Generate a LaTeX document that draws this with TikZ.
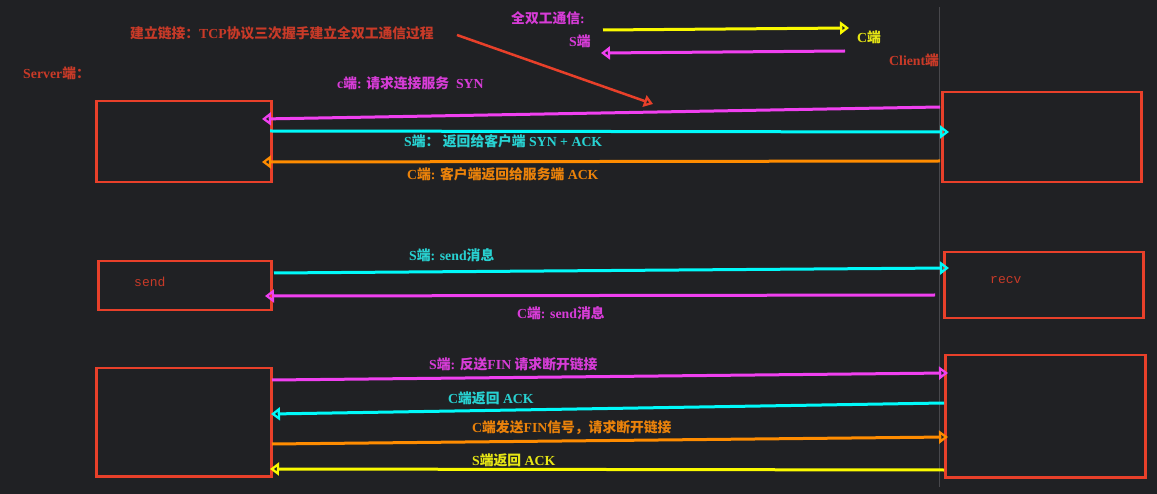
\documentclass[tikz,border=0pt]{standalone}
\usepackage{fontspec}
\setmainfont{Liberation Serif}
\newfontfamily\cjk{Noto Sans CJK SC}
\newfontfamily\monofam{Liberation Mono}
\usetikzlibrary{arrows.meta}
\newcommand\zh[1]{{\cjk #1}}
\definecolor{bg}{RGB}{32,33,36}
\definecolor{boxred}{RGB}{232,64,42}
\definecolor{txtred}{RGB}{200,58,40}
\definecolor{cmag}{RGB}{240,64,240}
\definecolor{tmag}{RGB}{215,60,215}
\definecolor{ccyan}{RGB}{0,250,250}
\definecolor{tcyan}{RGB}{40,210,210}
\definecolor{corange}{RGB}{255,140,0}
\definecolor{torange}{RGB}{235,130,10}
\definecolor{cyellow}{RGB}{250,250,0}
\definecolor{tyellow}{RGB}{230,230,20}
\definecolor{vline}{RGB}{72,72,76}
\begin{document}
\begin{tikzpicture}[x=1pt,y=-1pt,
  box/.style={draw=boxred, line width=2.5pt, inner sep=0pt, anchor=north west},
  lbl/.style={anchor=west, inner sep=0pt, font=\fontsize{13.8}{16}\selectfont\bfseries},
  conn/.style={line width=3pt, -{Triangle[open,length=9pt,width=13pt,line width=2.5pt]}}]
\fill[bg] (0,0) rectangle (1157,494);
\useasboundingbox (0,0) rectangle (1157,494);

% vertical guide line
\coordinate (vt) at (939.5,7);
\coordinate (vb) at (939.5,487);
\draw[vline, line width=0.8pt] (vt) -- (vb);

% boxes
\node[box, minimum width=175pt, minimum height=81pt] (L1) at (95,100) {};
\node[box, minimum width=173pt, minimum height=49pt] (L2) at (97,260) {};
\node[box, minimum width=175pt, minimum height=108pt] (L3) at (95,367) {};
\node[box, minimum width=199pt, minimum height=90pt] (R1) at (941,91) {};
\node[box, minimum width=199pt, minimum height=66pt] (R2) at (943,251) {};
\node[box, minimum width=200pt, minimum height=122pt] (R3) at (944,354) {};

\node[lbl, text=txtred, font=\monofam\fontsize{13}{15}\selectfont] (send) at (134,282) {send};
\node[lbl, text=txtred, font=\monofam\fontsize{13}{15}\selectfont] (recv) at (990,280) {recv};

% top texts
\node[lbl, text=txtred] (title) at (130,33) {\zh{建立链接：}TCP\zh{协议三次握手建立全双工通信过程}};
\node[lbl, text=txtred] (server) at (23,73) {Server\zh{端：}};
\node[lbl, text=tmag] (duplex) at (511,18) {\zh{全双工通信}:};
\node[lbl, text=tmag] (sside) at (569,41) {S\zh{端}};
\node[lbl, text=tyellow] (cside) at (857,37) {C\zh{端}};
\node[lbl, text=txtred] (client) at (889,60) {Client\zh{端}};

% legend arrows
\coordinate (ya) at (603,30); \coordinate (yb) at (849,28);
\draw[conn, cyellow] (ya) -- (yb);
\coordinate (ma) at (845,51); \coordinate (mb) at (601,53);
\draw[conn, cmag] (ma) -- (mb);

% red pointer arrow
\coordinate (ra) at (457,35); \coordinate (rb) at (653,104);
\draw[boxred, line width=2.5pt, -{Triangle[open,length=9pt,width=12pt,line width=2.5pt]}] (ra) -- (rb);

% handshake
\coordinate (h1a) at (940,107); \coordinate (h1b) at (262,119);
\draw[conn, cmag] (h1a) -- (h1b);
\node[lbl, text=tmag] (t1) at (337,83) {c\zh{端}: \zh{请求连接服务}\ \ SYN};
\coordinate (h2a) at (270,131); \coordinate (h2b) at (949,132);
\draw[conn, ccyan] (h2a) -- (h2b);
\node[lbl, text=tcyan] (t2) at (404,141) {S\zh{端：}\ \zh{返回给客户端} SYN + ACK};
\coordinate (h3a) at (940,161); \coordinate (h3b) at (262,162);
\draw[conn, corange] (h3a) -- (h3b);
\node[lbl, text=torange] (t3) at (407,174) {C\zh{端}: \zh{客户端返回给服务端} ACK};

% data
\coordinate (d1a) at (274,273); \coordinate (d1b) at (949,268);
\draw[conn, ccyan] (d1a) -- (d1b);
\node[lbl, text=tcyan] (t4) at (409,255) {S\zh{端}: send\zh{消息}};
\coordinate (d2a) at (935,295); \coordinate (d2b) at (265,296);
\draw[conn, cmag] (d2a) -- (d2b);
\node[lbl, text=tmag] (t5) at (517,313) {C\zh{端}: send\zh{消息}};

% teardown
\coordinate (f1a) at (272,380); \coordinate (f1b) at (948,373);
\draw[conn, cmag] (f1a) -- (f1b);
\node[lbl, text=tmag] (t6) at (429,364) {S\zh{端}: \zh{反送}FIN \zh{请求断开链接}};
\coordinate (f2a) at (944,403); \coordinate (f2b) at (271,414);
\draw[conn, ccyan] (f2a) -- (f2b);
\node[lbl, text=tcyan] (t7) at (448,398) {C\zh{端返回} ACK};
\coordinate (f3a) at (272,444); \coordinate (f3b) at (948,437);
\draw[conn, corange] (f3a) -- (f3b);
\node[lbl, text=torange] (t8) at (472,428) {C\zh{端发送}FIN\zh{信号，请求断开链接}};
\coordinate (f4a) at (944,470); \coordinate (f4b) at (270,469);
\draw[conn, cyellow] (f4a) -- (f4b);
\node[lbl, text=tyellow] (t9) at (472,460) {S\zh{端返回} ACK};
\end{tikzpicture}
\end{document}
